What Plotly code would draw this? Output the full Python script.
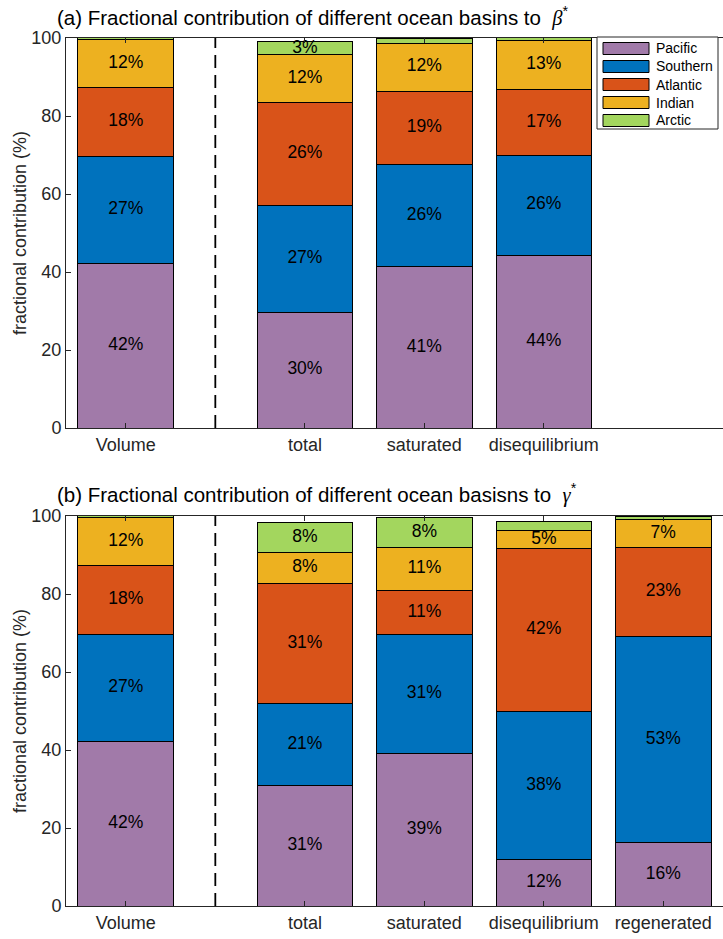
import plotly.graph_objects as go

# Basin names and fill colours
basins = ["Pacific", "Southern", "Atlantic", "Indian", "Arctic"]
basin_colors = ["#A17AA9", "#0072BD", "#D95319", "#EDB120", "#A3D65E"]

# Panel (a): contribution to beta*
cats_a = ["Volume", "total", "saturated", "disequilibrium"]
pacific_a = [42.3, 29.7, 41.4, 44.3]
southern_a = [27.2, 27.4, 26.2, 25.7]
atlantic_a = [17.9, 26.4, 18.8, 16.8]
indian_a = [12.3, 12.2, 12.3, 12.6]
arctic_a = [0.6, 3.3, 1.3, 0.8]

# Panel (b): contribution to gamma*
cats_b = ["Volume", "total", "saturated", "disequilibrium", "regenerated"]
pacific_b = [42.3, 31.0, 39.0, 11.8, 16.2]
southern_b = [27.2, 20.8, 30.7, 38.2, 52.8]
atlantic_b = [17.9, 30.8, 11.2, 41.7, 23.0]
indian_b = [12.3, 8.1, 11.0, 4.6, 7.0]
arctic_b = [0.6, 7.7, 7.8, 2.2, 0.8]

yticks = [0, 20, 40, 60, 80, 100]

FONT = "Liberation Sans, Arial, Helvetica, sans-serif"
AX = "#262626"

# Figure geometry (pixels)
W, H = 723, 939
ML, MR, MT, MB = 66, 0, 38, 33
PW = W - ML - MR
PH = H - MT - MB


def px_x(x):
    return (x - ML) / PW


def px_y(y):
    return (H - MB - y) / PH


def slot_positions(cats):
    # "Volume" sits on its own, the decomposition terms follow after a gap
    return [1.0] + [2.5 + i for i in range(len(cats) - 1)]


fig = go.Figure()


def add_panel(cats, series, xa, ya):
    xpos = slot_positions(cats)
    base = [0.0] * len(cats)
    lx, ly, lt = [], [], []
    for name, color, vals in zip(basins, basin_colors, series):
        fig.add_trace(go.Bar(
            x=xpos, y=vals, name=name, width=0.8,
            marker=dict(color=color, line=dict(color="black", width=1)),
            xaxis=xa, yaxis=ya, showlegend=False, hoverinfo="skip",
        ))
        for i, v in enumerate(vals):
            if round(v) >= 3:
                lx.append(xpos[i])
                ly.append(base[i] + v / 2)
                lt.append(f"{round(v)}%")
            base[i] += v
    fig.add_trace(go.Scatter(
        x=lx, y=ly, text=lt, mode="text", xaxis=xa, yaxis=ya,
        textfont=dict(family=FONT, size=17.5, color="black"),
        showlegend=False, hoverinfo="skip",
    ))
    return xpos


xa_pos = add_panel(cats_a, [pacific_a, southern_a, atlantic_a, indian_a, arctic_a], "x", "y")
xb_pos = add_panel(cats_b, [pacific_b, southern_b, atlantic_b, indian_b, arctic_b], "x2", "y2")

fig.update_layout(barmode="stack")

axis_common = dict(
    range=[0.5, 6.0], showgrid=False, zeroline=False, showline=True,
    linecolor=AX, linewidth=1, mirror="ticks", ticks="inside", ticklen=5,
    tickcolor=AX, tickfont=dict(family=FONT, size=18, color=AX),
)
yaxis_common = dict(
    range=[0, 100], showgrid=False, zeroline=False, showline=True,
    linecolor=AX, linewidth=1, mirror=False, ticks="inside", ticklen=5,
    tickcolor=AX, tickvals=yticks, tickfont=dict(family=FONT, size=18, color=AX),
)
# Right-hand tick marks only (the right edge of the box falls off the page)
yaxis_right = dict(
    range=[0, 100], showgrid=False, zeroline=False, showline=False,
    ticks="inside", ticklen=5, tickcolor=AX, tickvals=yticks,
    showticklabels=False, side="right",
)

fig.update_layout(
    xaxis=dict(axis_common, domain=[0, 1], anchor="y", tickvals=xa_pos, ticktext=cats_a),
    yaxis=dict(yaxis_common, domain=[px_y(428), 1], anchor="x"),
    xaxis2=dict(axis_common, domain=[0, 1], anchor="y2", tickvals=xb_pos, ticktext=cats_b),
    yaxis2=dict(yaxis_common, domain=[0, px_y(516)], anchor="x2"),
    yaxis3=dict(yaxis_right, domain=[px_y(428), 1], anchor="x", overlaying="y"),
    yaxis4=dict(yaxis_right, domain=[0, px_y(516)], anchor="x2", overlaying="y2"),
)

# Dashed separator between the volume bar and the decomposition bars
for xr, yr in (("x", "y"), ("x2", "y2")):
    fig.add_shape(type="line", x0=1.75, x1=1.75, y0=0, y1=100, xref=xr, yref=yr,
                  line=dict(color="black", width=1.8, dash="13px,7px"))

greek = "<span style='font-family:Liberation Serif, Times New Roman, serif'><i>{}</i></span><sup>*</sup>"
for txt, yc in (
    ("(a) Fractional contribution of different ocean basins to  " + greek.format("β"), 16),
    ("(b) Fractional contribution of different ocean basisns to  " + greek.format("γ"), 493),
):
    fig.add_annotation(
        text=txt, xref="paper", yref="paper", x=px_x(55), y=px_y(yc),
        xanchor="left", yanchor="middle", showarrow=False,
        font=dict(family=FONT, size=20.5, color="black"),
    )

for yr in ("y domain", "y2 domain"):
    fig.add_annotation(
        text="fractional contribution (%)", textangle=-90,
        xref="paper", yref=yr, x=px_x(20), y=0.5,
        xanchor="center", yanchor="middle", showarrow=False,
        font=dict(family=FONT, size=18, color=AX),
    )

# Legend box for panel (a): wide swatches like the basin key
LX0, LX1, LY0, LY1 = 597, 718, 37, 129
fig.add_shape(type="rect", xref="paper", yref="paper",
              x0=px_x(LX0), x1=px_x(LX1), y0=px_y(LY1), y1=px_y(LY0),
              line=dict(color=AX, width=1), fillcolor="white", layer="above")
for k, (name, color) in enumerate(zip(basins, basin_colors)):
    yc = 48.5 + 18 * k
    fig.add_shape(type="rect", xref="paper", yref="paper",
                  x0=px_x(603), x1=px_x(649), y0=px_y(yc + 6), y1=px_y(yc - 6),
                  line=dict(color="black", width=1), fillcolor=color, layer="above")
    fig.add_annotation(
        text=name, xref="paper", yref="paper", x=px_x(654), y=px_y(yc),
        xanchor="left", yanchor="middle", showarrow=False,
        font=dict(family=FONT, size=14, color="black"),
    )

fig.update_layout(
    width=W, height=H,
    margin=dict(l=ML, r=MR, t=MT, b=MB),
    paper_bgcolor="white", plot_bgcolor="white",
    showlegend=False,
)

fig.write_html("out.html")
